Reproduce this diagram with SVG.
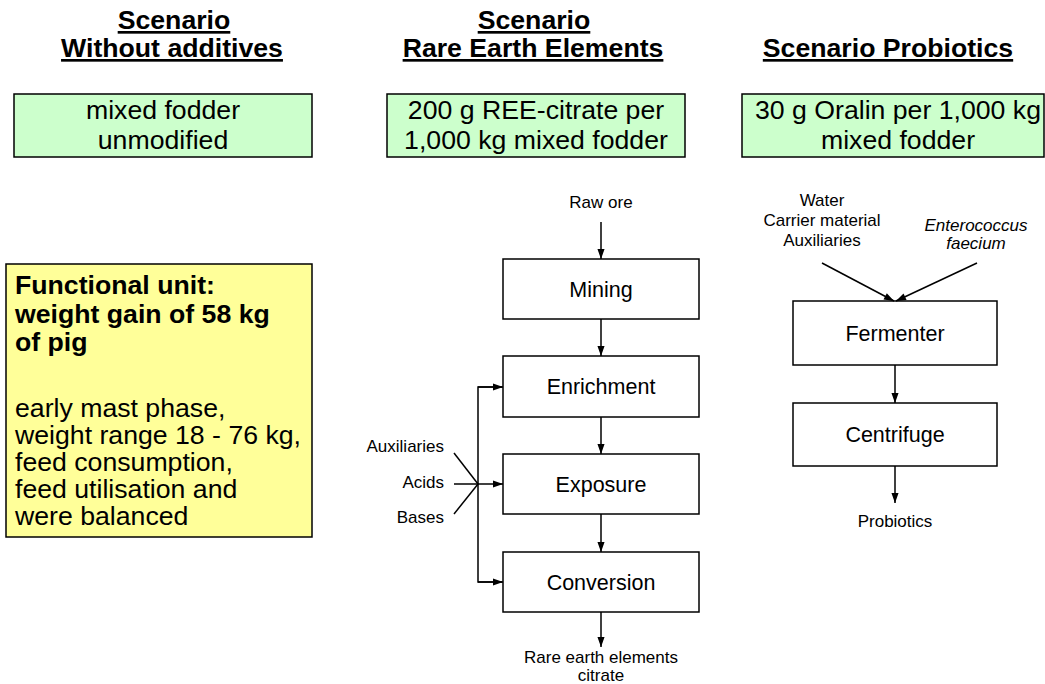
<svg xmlns="http://www.w3.org/2000/svg" width="1045" height="684" viewBox="0 0 1045 684">
<defs>
<marker id="ah" markerWidth="10" markerHeight="14" refX="14" refY="5" viewBox="0 0 14 10" markerUnits="userSpaceOnUse" orient="auto" overflow="visible">
<path d="M0,0 L14,5 L0,10 Z" fill="#000"/>
</marker>
<style>
text{font-family:"Liberation Sans",Arial,sans-serif;fill:#000}
.title{font-size:26.67px;font-weight:bold;text-decoration:underline;text-anchor:middle}
.green{fill:#ccffcc;stroke:#000;stroke-width:1.5}
.gt{font-size:26.67px;text-anchor:middle}
.yellow{fill:#ffff99;stroke:#000;stroke-width:1.5}
.yt{font-size:26.67px}
.yb{font-size:26.67px;font-weight:bold}
.box{fill:#fff;stroke:#000;stroke-width:1.5}
.bt{font-size:21.5px;text-anchor:middle}
.lbl{font-size:17px;text-anchor:middle}
.lr{font-size:17px;text-anchor:end}
.ln{stroke:#000;stroke-width:1.5;fill:none}
.ar{stroke:#000;stroke-width:1.5;fill:none;marker-end:url(#ah)}
</style>
</defs>
<g id="titles">
<text class="title" x="174" y="29">Scenario</text>
<text class="title" x="172" y="57">Without additives</text>
<text class="title" x="534" y="29">Scenario</text>
<text class="title" x="533" y="57">Rare Earth Elements</text>
<text class="title" x="888" y="57">Scenario Probiotics</text>
</g>
<g id="box-without">
<rect class="green" x="14" y="94" width="298" height="63"/>
<text class="gt" x="163" y="119">mixed fodder</text>
<text class="gt" x="163" y="149">unmodified</text>
</g>
<g id="box-ree">
<rect class="green" x="387" y="94" width="298" height="63"/>
<text class="gt" x="536" y="119">200 g REE-citrate per</text>
<text class="gt" x="536" y="149">1,000 kg mixed fodder</text>
</g>
<g id="box-probiotics">
<rect class="green" x="742" y="94" width="302" height="63"/>
<text class="gt" x="898" y="119">30 g Oralin per 1,000 kg</text>
<text class="gt" x="898" y="149">mixed fodder</text>
</g>
<g id="functional-unit">
<rect class="yellow" x="6" y="264" width="306" height="273"/>
<text class="yb" x="15" y="294">Functional unit:</text>
<text class="yb" x="15" y="323">weight gain of 58 kg</text>
<text class="yb" x="15" y="351">of pig</text>
<text class="yt" x="15" y="417">early mast phase,</text>
<text class="yt" x="15" y="444">weight range 18 - 76 kg,</text>
<text class="yt" x="15" y="471">feed consumption,</text>
<text class="yt" x="15" y="498">feed utilisation and</text>
<text class="yt" x="15" y="525">were balanced</text>
</g>
<g id="raw-ore"><text class="lbl" x="601" y="208">Raw ore</text></g>
<g id="mining">
<rect class="box" x="503" y="259" width="196" height="60"/>
<text class="bt" x="601" y="297">Mining</text>
</g>
<g id="enrichment">
<rect class="box" x="503" y="356" width="196" height="61"/>
<text class="bt" x="601" y="394">Enrichment</text>
</g>
<g id="exposure">
<rect class="box" x="503" y="454" width="196" height="60"/>
<text class="bt" x="601" y="492">Exposure</text>
</g>
<g id="conversion">
<rect class="box" x="503" y="552" width="196" height="60"/>
<text class="bt" x="601" y="590">Conversion</text>
</g>
<g id="ree-output">
<text class="lbl" x="601" y="663">Rare earth elements</text>
<text class="lbl" x="601" y="681">citrate</text>
</g>
<g id="inputs-ree">
<text class="lr" x="444" y="452">Auxiliaries</text>
<text class="lr" x="444" y="488">Acids</text>
<text class="lr" x="444" y="523">Bases</text>
</g>
<g id="inputs-probiotics">
<text class="lbl" x="822" y="206">Water</text>
<text class="lbl" x="822" y="226">Carrier material</text>
<text class="lbl" x="822" y="246">Auxiliaries</text>
<text class="lbl" x="976" y="231" font-style="italic">Enterococcus</text>
<text class="lbl" x="976" y="249" font-style="italic">faecium</text>
</g>
<g id="fermenter">
<rect class="box" x="793" y="301" width="204" height="64"/>
<text class="bt" x="895" y="341">Fermenter</text>
</g>
<g id="centrifuge">
<rect class="box" x="793" y="403" width="204" height="63"/>
<text class="bt" x="895" y="442">Centrifuge</text>
</g>
<g id="probiotics-output"><text class="lbl" x="895" y="527">Probiotics</text></g>
<g id="connectors">
<line class="ar" x1="601" y1="222" x2="601" y2="259"/>
<line class="ar" x1="601" y1="319" x2="601" y2="356"/>
<line class="ar" x1="601" y1="417" x2="601" y2="454"/>
<line class="ar" x1="601" y1="514" x2="601" y2="552"/>
<line class="ar" x1="601" y1="612" x2="601" y2="647"/>
<polyline class="ln" points="502,387 478,387 478,582 502,582"/>
<line class="ar" x1="478" y1="387" x2="503" y2="387"/>
<line class="ar" x1="478" y1="484" x2="503" y2="484"/>
<line class="ar" x1="478" y1="582" x2="503" y2="582"/>
<line class="ln" x1="454" y1="453" x2="478" y2="484"/>
<line class="ln" x1="454" y1="484" x2="478" y2="484"/>
<line class="ln" x1="454" y1="514" x2="478" y2="484"/>
<line class="ar" x1="822" y1="263" x2="894" y2="301"/>
<line class="ar" x1="977" y1="263" x2="896" y2="301"/>
<line class="ar" x1="895" y1="365" x2="895" y2="403"/>
<line class="ar" x1="895" y1="466" x2="895" y2="503"/>
</g>
</svg>
